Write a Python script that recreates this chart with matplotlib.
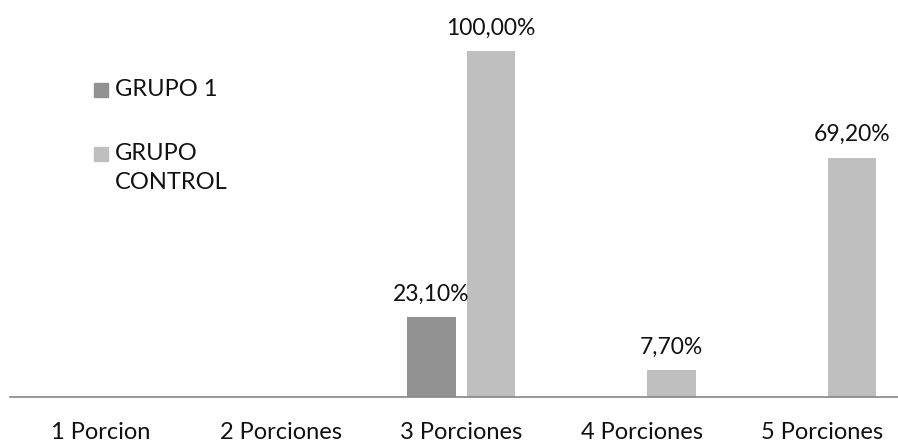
import matplotlib
matplotlib.use("Agg")
import matplotlib.pyplot as plt
from matplotlib.patches import Rectangle
import numpy as np

# data
categorias = ["1 Porcion", "2 Porciones", "3 Porciones", "4 Porciones", "5 Porciones"]
grupo_1 = [0.0, 0.0, 23.1, 0.0, 0.0]
grupo_control = [0.0, 0.0, 100.0, 7.7, 69.2]
series_names = ["GRUPO 1", "GRUPO\nCONTROL"]

COLOR_G1 = "#929292"
COLOR_CTRL = "#bfbfbf"
AXIS_COLOR = "#868686"
TEXT_COLOR = "#111111"

plt.rcParams['font.family'] = ['Lato', 'DejaVu Sans']

fig = plt.figure(figsize=(8.98, 4.45), dpi=100)
W, H = 898.0, 445.0
# plot area in pixels: left 10, width 902.5, bottom (from top) 397, height 380
ax = fig.add_axes([10 / W, (H - 397) / H, 902.5 / W, 380.6 / H])

x = np.arange(len(categorias))
width = 0.268
offset = 0.165

bars1 = ax.bar(x - offset, grupo_1, width, color=COLOR_G1, label=series_names[0])
bars2 = ax.bar(x + offset, grupo_control, width, color=COLOR_CTRL, label=series_names[1])

# value labels only for the non-empty bars
for bars, vals in ((bars1, grupo_1), (bars2, grupo_control)):
    for b, v in zip(bars, vals):
        if v == 0:
            continue
        ax.annotate(f"{v:.2f}%".replace(".", ","),
                    (b.get_x() + b.get_width() / 2, v),
                    xytext=(0, 9), textcoords="offset points",
                    ha="center", va="bottom", fontsize=16.5, color=TEXT_COLOR)

ax.set_xlim(-0.5, len(categorias) - 0.5)
ax.set_ylim(0, 110)

ax.set_xticks(x)
ax.set_xticklabels(categorias, fontsize=17, color=TEXT_COLOR)
ax.tick_params(axis="x", length=0, pad=18)
ax.set_yticks([])

for side in ("top", "right", "left"):
    ax.spines[side].set_visible(False)
ax.spines["bottom"].set_color(AXIS_COLOR)
ax.spines["bottom"].set_linewidth(1.2)

# legend drawn by hand so the square sits next to the first line of each label
leg_colors = [COLOR_G1, COLOR_CTRL]
leg_rows = [90, 154]          # pixel row (from top) of each entry's first line
for name, col, row in zip(series_names, leg_colors, leg_rows):
    fig.patches.append(Rectangle((94 / W, 1 - (row + 7) / H), 14 / W, 14 / H,
                                 transform=fig.transFigure, color=col))
    fig.text(115 / W, 1 - (row - 11) / H, name, ha="left", va="top",
             fontsize=17, color=TEXT_COLOR, linespacing=1.45)

fig.savefig("out.png", dpi=100)
